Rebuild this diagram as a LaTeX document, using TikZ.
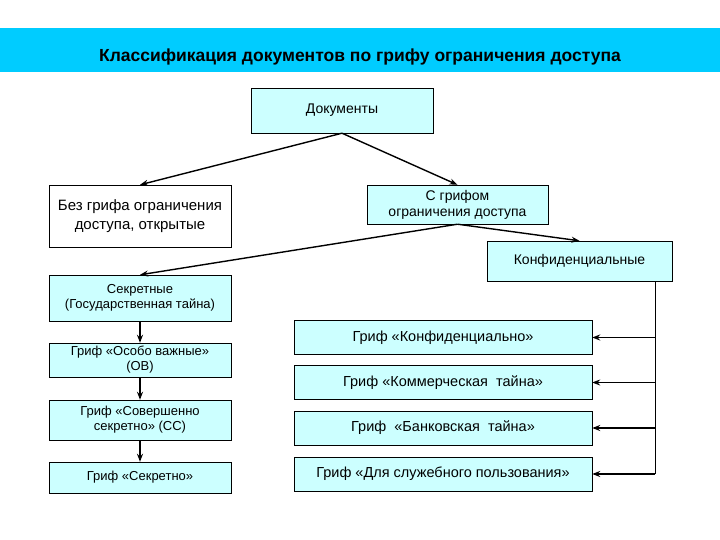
\documentclass[tikz,border=0pt]{standalone}
\usepackage{fontspec}
\setmainfont{Liberation Sans}
\usetikzlibrary{arrows.meta}
\definecolor{bar}{HTML}{00CCFF}
\definecolor{lc}{HTML}{CCFFFF}
\begin{document}
\begin{tikzpicture}[x=1pt,y=-1pt,
 bx/.style={draw,fill=lc,align=center,font=\fontsize{13}{15}\selectfont,inner sep=0pt},
 ar/.style={-{Stealth[length=8pt,width=6pt]},line width=1.4pt}]
\useasboundingbox (0,0) rectangle (720,540);
\fill[bar] (0,28) rectangle (720,72);
\node[font=\bfseries\fontsize{17.5}{20}\selectfont] (t) at (360,57) {Классификация документов по грифу ограничения доступа};
\node[bx,minimum width=182pt,minimum height=45pt,font=\fontsize{14}{16}\selectfont] (d) at (342,110.5) {Документы};
\node[bx,fill=white,minimum width=182pt,minimum height=62pt,font=\fontsize{15}{19}\selectfont] (b) at (140,216) {Без грифа ограничения\\доступа, открытые};
\node[bx,minimum width=181pt,minimum height=39pt,font=\fontsize{14}{16}\selectfont] (s) at (457.5,204.5) {С грифом\\ограничения доступа};
\node[bx,minimum width=185pt,minimum height=40pt,font=\fontsize{14}{16}\selectfont] (k) at (579.5,261) {Конфиденциальные};
\node[bx,minimum width=182pt,minimum height=46pt] (sec) at (140,298) {Секретные\\(Государственная тайна)};
\node[bx,minimum width=182pt,minimum height=34pt] (ov) at (140,360) {Гриф «Особо важные»\\(ОВ)};
\node[bx,minimum width=182pt,minimum height=40pt] (cc) at (140,420) {Гриф «Совершенно\\секретно» (СС)};
\node[bx,minimum width=182pt,minimum height=31pt] (gs) at (140,477.5) {Гриф «Секретно»};
\begin{scope}[every node/.style={bx,minimum width=298pt,minimum height=34pt,font=\fontsize{14.5}{16}\selectfont}]
\node (r1) at (443,337.5) {Гриф «Конфиденциально»};
\node (r2) at (443,382.5) {Гриф «Коммерческая~ тайна»};
\node (r3) at (443,428) {Гриф~ «Банковская~ тайна»};
\node (r4) at (443,474) {Гриф «Для служебного пользования»};
\end{scope}
\draw[ar] (d.south) -- (b.north);
\draw[ar] (d.south) -- (s.north);
\draw[ar] (s.south) -- (sec.north);
\draw[ar] (s.south) -- (k.north);
\draw[ar] (sec) -- (ov);
\draw[ar] (ov) -- (cc);
\draw[ar] (cc) -- (gs);
\coordinate (bus) at (655,474);
\draw[line width=0.8pt] (k.south -| bus) -- (bus);
\draw[ar] (r1.east -| bus) -- (r1.east);
\draw[-{Stealth[length=8pt,width=6pt]},line width=0.8pt] (r2.east -| bus) -- (r2.east);
\draw[ar] (r3.east -| bus) -- (r3.east);
\draw[ar] (bus) -- (r4.east);
\end{tikzpicture}
\end{document}
